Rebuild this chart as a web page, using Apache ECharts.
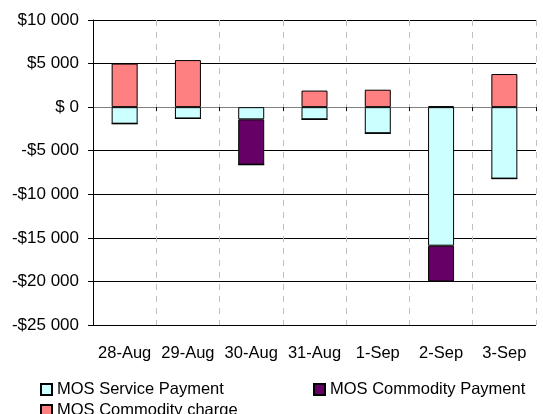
<!DOCTYPE html>
<html>
<head>
<meta charset="utf-8">
<script src="https://cdn.jsdelivr.net/npm/echarts@6/dist/echarts.min.js"></script>
<style>
  html, body { margin: 0; padding: 0; background: #fff; }
  #chart { width: 543px; height: 414px; }
</style>
</head>
<body>
<div id="chart"></div>
<script>
// dates on the x axis
const days = ['28-Aug', '29-Aug', '30-Aug', '31-Aug', '1-Sep', '2-Sep', '3-Sep'];
// values, in dollars
const servicePayment = [-1900, -1300, -1400, -1400, -3000, -15900, -8200];
const commodityPayment = [0, 0, -5200, 0, 0, -4100, 0];
const commodityCharge = [5000, 5400, 0, 1900, 2000, 100, 3800];

const fontFam = '"Liberation Sans", Arial, sans-serif';

function money(v) {
  if (v === 0) return '$ 0';
  const s = String(Math.abs(v)).replace(/\B(?=(\d{3})+(?!\d))/g, ' ');
  return (v < 0 ? '-$' : '$') + s;
}

const chart = echarts.init(document.getElementById('chart'));
const barBorder = { borderColor: '#000', borderWidth: 1 };
const legendText = { fontSize: 16.5, color: '#000', fontFamily: fontFam };

chart.setOption({
  animation: false,
  textStyle: { fontFamily: fontFam },
  grid: { left: 93, right: 7, top: 20, bottom: 89 },
  legend: [
    {
      data: ['MOS Service Payment'], left: 35, top: 376, icon: 'rect',
      itemWidth: 11, itemHeight: 11, itemGap: 6, textStyle: legendText
    },
    {
      data: ['MOS Commodity Payment'], left: 308, top: 376, icon: 'rect',
      itemWidth: 11, itemHeight: 11, textStyle: legendText
    },
    {
      data: ['MOS Commodity charge'], left: 35, top: 397, icon: 'rect',
      itemWidth: 11, itemHeight: 11, textStyle: legendText
    }
  ],
  xAxis: [
    {
      type: 'category',
      data: days,
      axisLine: { onZero: true, lineStyle: { color: '#808080', width: 1 } },
      axisTick: { show: true, length: 4, lineStyle: { color: '#000' } },
      axisLabel: { show: false },
      splitLine: { show: true, interval: 0, lineStyle: { color: '#c0c0c0', type: [6, 6] } }
    },
    {
      type: 'category',
      data: days,
      position: 'bottom',
      axisLine: { show: false, onZero: false },
      axisTick: { show: false },
      axisLabel: { interval: 0, fontSize: 16.5, color: '#000', margin: 20, fontFamily: fontFam },
      splitLine: { show: false }
    }
  ],
  yAxis: {
    type: 'value',
    min: -25000,
    max: 10000,
    interval: 5000,
    axisLine: { show: true, lineStyle: { color: '#000' } },
    axisTick: { show: true, length: 5, lineStyle: { color: '#000' } },
    axisLabel: { fontSize: 17, color: '#000', margin: 14, formatter: money, fontFamily: fontFam },
    splitLine: { show: true, lineStyle: { color: '#000', width: 1 } }
  },
  series: [
    {
      name: 'MOS Service Payment', type: 'bar', stack: 'mos', barWidth: 26,
      data: servicePayment,
      itemStyle: Object.assign({ color: '#ccffff' }, barBorder)
    },
    {
      name: 'MOS Commodity Payment', type: 'bar', stack: 'mos', barWidth: 26,
      data: commodityPayment,
      itemStyle: Object.assign({ color: '#660066' }, barBorder)
    },
    {
      name: 'MOS Commodity charge', type: 'bar', stack: 'mos', barWidth: 26,
      data: commodityCharge,
      itemStyle: Object.assign({ color: '#ff8080' }, barBorder)
    }
  ]
});
</script>
</body>
</html>
